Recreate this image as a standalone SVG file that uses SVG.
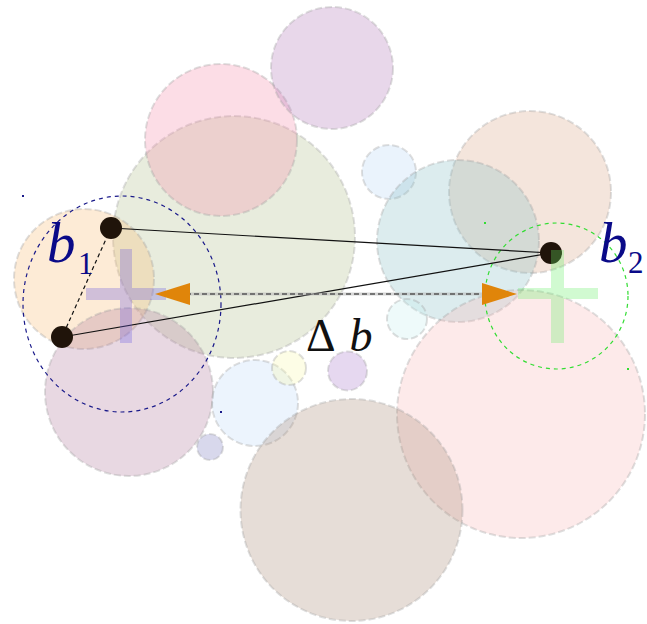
<svg xmlns="http://www.w3.org/2000/svg" width="647" height="624" viewBox="0 0 647 624">
<style>
.bub{fill-opacity:0.3;stroke:#a0a0a0;stroke-opacity:0.35;stroke-width:2;stroke-dasharray:7 3}
.pt{fill:#20140a}
.lbl{font-family:"Liberation Serif","DejaVu Serif",serif;fill:#0a0a88}
.it{font-style:italic}
.up{font-style:normal}
.arr{fill:#e0850a}
</style>
<rect width="647" height="624" fill="#ffffff"/>
<g id="bubbles">
<circle id="c-green" class="bub" cx="234" cy="237" r="121" fill="#b2c08e"/>
<circle id="c-pink" class="bub" cx="221" cy="140" r="76" fill="#f58eac"/>
<circle id="c-purple" class="bub" cx="332" cy="68" r="61" fill="#b27ab9"/>
<circle id="c-orange" class="bub" cx="84" cy="279" r="70" fill="#f8bc76"/>
<circle id="c-mauve" class="bub" cx="129" cy="392" r="84" fill="#b27d9e"/>
<circle id="c-lightblue" class="bub" cx="255" cy="403" r="43" fill="#c0daf8"/>
<circle id="c-yellow" class="bub" cx="289" cy="368" r="17" fill="#f8f8ac"/>
<circle id="c-smallpurple" class="bub" cx="347.5" cy="371" r="19.5" fill="#ac7dcd"/>
<circle id="c-lavender" class="bub" cx="210" cy="447" r="13" fill="#7d7dc0"/>
<circle id="c-topblue" class="bub" cx="389" cy="172" r="27" fill="#b9d7f5"/>
<circle id="c-peach" class="bub" cx="530" cy="192" r="81" fill="#daa88a"/>
<circle id="c-teal" class="bub" cx="458" cy="241" r="81" fill="#8ac0c6"/>
<circle id="c-cyan" class="bub" cx="407" cy="319" r="20" fill="#c6eeee"/>
<circle id="c-pinkright" class="bub" cx="521" cy="414" r="124" fill="#f8b9b9"/>
<circle id="c-brown" class="bub" cx="351.5" cy="510" r="111" fill="#ac8e7a"/>
</g>
<g id="regions">
<ellipse id="region1" cx="122" cy="304" rx="99" ry="108" fill="none" stroke="#1a1a8a" stroke-width="1.2" stroke-dasharray="4 4"/>
<rect x="22" y="195" width="2" height="2" fill="#1a1a8a"/>
<rect x="220" y="411" width="2" height="2" fill="#1a1a8a"/>
<ellipse id="region2" cx="556.5" cy="296" rx="71.5" ry="73" fill="none" stroke="#33dd33" stroke-width="1.2" stroke-dasharray="4 4"/>
<rect x="484" y="222" width="2" height="2" fill="#33dd33"/>
<rect x="627" y="368" width="2" height="2" fill="#33dd33"/>
</g>
<g id="connectors">
<line x1="111" y1="228" x2="551" y2="253" stroke="#111" stroke-width="1.2"/>
<line x1="62" y1="337" x2="551" y2="253" stroke="#111" stroke-width="1.2"/>
<line x1="111" y1="228" x2="62" y2="337" stroke="#111" stroke-width="1.2" stroke-dasharray="4 3"/>
<line x1="170" y1="294" x2="500" y2="294" stroke="#bbbbbb" stroke-width="3" stroke-opacity="0.6"/>
<line x1="170" y1="294" x2="500" y2="294" stroke="#555555" stroke-width="1.5" stroke-dasharray="5 3"/>
</g>
<g id="points">
<circle id="p1" class="pt" cx="111" cy="228" r="11"/>
<circle id="p2" class="pt" cx="62" cy="337" r="11"/>
<circle id="p3" class="pt" cx="551" cy="253" r="11"/>
</g>
<g id="cross1" fill="#6a5ae0" fill-opacity="0.3">
<rect x="120" y="249" width="12" height="94"/>
<rect x="86" y="288" width="34" height="12"/>
<rect x="132" y="288" width="34" height="12"/>
</g>
<g id="cross2" fill="#66ee66" fill-opacity="0.3">
<rect x="551" y="250" width="13" height="93"/>
<rect x="518" y="288" width="33" height="11"/>
<rect x="564" y="288" width="34" height="11"/>
</g>
<g id="arrows">
<polygon class="arr" points="155,294 190,283 190,305"/>
<polygon class="arr" points="517,294 482,283 482,305"/>
</g>
<g id="labels">
<text class="lbl it" x="47" y="262" font-size="57">b</text>
<text class="lbl up" x="78" y="274" font-size="31">1</text>
<text class="lbl it" x="599" y="262" font-size="57">b</text>
<text class="lbl up" x="628" y="273" font-size="31">2</text>
<text x="306" y="351" font-family="Liberation Serif, DejaVu Serif, serif" font-size="46" fill="#111">Δ<tspan dx="14" font-style="italic">b</tspan></text>
</g>
</svg>
